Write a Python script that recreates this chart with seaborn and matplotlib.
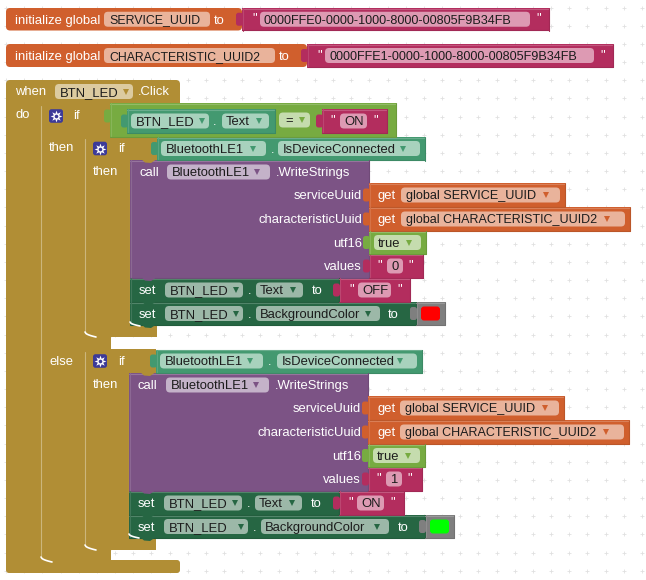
import matplotlib
matplotlib.use('Agg')
from matplotlib import pyplot as plt
from matplotlib.patches import FancyBboxPatch, Rectangle, Polygon
import numpy as np
import seaborn as sns

# all the words on the blocks
init_words = ['initialize global', 'to']
var_names = ['SERVICE_UUID', 'CHARACTERISTIC_UUID2']
uuid_values = ['0000FFE0-0000-1000-8000-00805F9B34FB', '0000FFE1-0000-1000-8000-00805F9B34FB']
button_name = 'BTN_LED'
ble_name = 'BluetoothLE1'
ble_prop = 'IsDeviceConnected'
ble_call = '.WriteStrings'
param_names = ['serviceUuid', 'characteristicUuid', 'utf16', 'values']
get_names = ['global SERVICE_UUID', 'global CHARACTERISTIC_UUID2']
written_values = ['0', '1']
text_values = ['OFF', 'ON']
prop_names = ['Text', 'BackgroundColor']
flow_words = ['when', '.Click', 'do', 'if', 'then', 'else', 'call', 'get', 'set', 'true', '=']

ORANGE, ORANGE_PILL = '#d05f2d', '#e9b39b'
PINK, PINK_PILL = '#b32d5e', '#dd9ab3'
GOLD, GOLD_PILL = '#b18e35', '#dccba0'
PURPLE, PURPLE_PILL = '#7c5385', '#c4b2c9'
TEAL, TEAL_PILL = '#439970', '#a8d2bd'
DGREEN, DGREEN_PILL = '#266643', '#9cb8a8'
LGREEN, LGREEN_PILL = '#77ab41', '#c5dcae'
GREY = '#7f7f7f'
INK = '#1c1c1c'
FS = 9.4

sns.set_theme(style='white')
plt.rcParams['font.family'] = ['Liberation Sans', 'DejaVu Sans']

fig, ax = plt.subplots(figsize=(6.46, 5.8), dpi=100)
ax.set_position([0, 0, 1, 1])

# workspace dot grid
gx, gy = np.meshgrid(np.arange(6, 646, 18.17), np.arange(7.5, 580, 18.17))
sns.scatterplot(x=gx.ravel(), y=gy.ravel(), marker='+', color='#e0e0e0', s=12, linewidth=0.6, ax=ax, zorder=1)


def shade(color, amount):
    c = np.array(matplotlib.colors.to_rgb(color))
    c = c + (1 - c) * amount if amount > 0 else c * (1 + amount)
    return tuple(c)


def rect(x0, y0, x1, y1, color, z=2, edge=True):
    ax.add_patch(Rectangle((x0, y0), x1 - x0, y1 - y0, fc=color, ec='none', zorder=z))
    if edge:
        ax.plot([x0, x1], [y0 + 0.5, y0 + 0.5], color=shade(color, 0.2), lw=0.8, zorder=z + 0.1)
        ax.plot([x0 + 0.5, x0 + 0.5], [y0, y1], color=shade(color, 0.12), lw=0.8, zorder=z + 0.1)
        ax.plot([x0, x1], [y1 - 0.5, y1 - 0.5], color=shade(color, -0.1), lw=0.8, zorder=z + 0.1)
        ax.plot([x1 - 0.5, x1 - 0.5], [y0, y1], color=shade(color, -0.1), lw=0.8, zorder=z + 0.1)


def rounded(x0, y0, x1, y1, color, r=4, z=5):
    ax.add_patch(FancyBboxPatch((x0, y0), x1 - x0, y1 - y0, boxstyle=f'round,pad=0,rounding_size={r}',
                                fc=color, ec='none', zorder=z))


def label(x, yc, s, color='white', ha='left', z=7, fs=FS):
    ax.text(x, yc + 4.3, s, color=color, fontsize=fs, ha=ha, va='baseline', zorder=z)


def pill(x0, x1, yc, s, fill, tri=None, pad=5, fs=FS):
    rounded(x0, yc - 7.5, x1, yc + 7.5, fill)
    label(x0 + pad, yc, s, INK, fs=fs)
    if tri is not None:
        ax.plot([tri[0]], [yc], marker='v', ms=4, color=tri[1], mew=0, zorder=7)


def tab(x, yc, color):
    # puzzle connector of a value block, it bites into its parent
    rounded(x - 6, yc - 6.5, x + 1, yc + 6.5, color, r=2.5, z=4.5)


def notch(x, y, color):
    ax.add_patch(Polygon([(x, y - 1), (x + 4, y + 2.5), (x + 10, y + 3), (x + 16, y - 1)], fc=color, ec='none', zorder=4.6))


def gear(x, yc):
    rounded(x, yc - 6.8, x + 14, yc + 6.8, '#3c3a98', r=2.5)
    ax.plot([x + 7], [yc], marker=(8, 1, 0), ms=8.5, color='white', mew=0, zorder=7)
    ax.plot([x + 7], [yc], marker='o', ms=2.6, color='#3c3a98', mew=0, zorder=8)


def curve(x0, y0, x1, y1):
    # light inside corner under a statement stack
    t = np.linspace(0, 1, 12)
    ax.plot(x0 + (x1 - x0) * t, y0 + (y1 - y0) * np.sqrt(t), color='white', lw=1.2, zorder=4)


def text_block(x0, x1, y0, y1, s, pill_x0, pill_x1, q0, q1, fs=FS):
    rect(x0, y0, x1, y1, PINK, z=3)
    tab(x0, (y0 + y1) / 2, PINK)
    yc = (y0 + y1) / 2
    label(q0, yc - 2, '"')
    pill(pill_x0, pill_x1, yc, s, PINK_PILL, pad=4, fs=fs)
    label(q1, yc - 2, '"')


def init_row(y0, y1, name, name_x1, to_x, split, uuid, pill_x0, pill_x1, end, name_fs):
    yc = (y0 + y1) / 2
    rounded(6, y0, split, y1, ORANGE, r=4, z=2)
    label(15, yc, init_words[0])
    pill(104, name_x1, yc, name, ORANGE_PILL, fs=name_fs)
    label(to_x, yc, init_words[1])
    text_block(split, end, y0, y1, uuid, pill_x0, pill_x1, pill_x0 - 8, pill_x1 + 6, fs=9.1)


def connected_getter(dx, y0, trim):
    # BluetoothLE1.IsDeviceConnected
    yc = y0 + 11.5
    rect(157 + dx, y0, 425 + dx - trim, y0 + 23.5, TEAL, z=3)
    tab(157 + dx, yc, TEAL)
    pill(161 + dx, 266 + dx - trim, yc, ble_name, TEAL_PILL, (253 + dx - trim, TEAL))
    label(271 + dx - trim, yc, '.')
    pill(278 + dx, 420 + dx - trim, yc, ble_prop, TEAL_PILL, (403 + dx - trim, TEAL))


def write_call(dx, y0, value):
    # purple call block with its four sockets
    x = 130 + dx
    rect(x, y0, 369 + dx, y0 + 118, PURPLE, z=3)
    notch(x + 11, y0, GOLD)
    label(139 + dx, y0 + 12, flow_words[6])
    pill(167 + dx, 270 + dx, y0 + 12, ble_name, PURPLE_PILL, (257 + dx, PURPLE))
    label(276 + dx, y0 + 12, ble_call)
    ycs = [y0 + 35, y0 + 59, y0 + 82.5, y0 + 106]
    for yc, name in zip(ycs, param_names):
        label(362 + dx, yc, name, ha='right')
    sx = 369 + dx
    for i, (x1, px1, tx, fs) in enumerate([(565, 560, 546, 9.1), (630, 625, 607, 9.0)]):
        rect(sx, ycs[i] - 12, x1 + dx, ycs[i] + 12, ORANGE, z=4)
        tab(sx, ycs[i], ORANGE)
        label(378 + dx, ycs[i], flow_words[7])
        pill(401 + dx, px1 + dx, ycs[i], get_names[i], ORANGE_PILL, (tx + dx, ORANGE), fs=fs)
    rect(sx, ycs[2] - 11.5, 426 + dx, ycs[2] + 11.5, LGREEN, z=4)
    tab(sx, ycs[2], LGREEN)
    pill(374 + dx, 421 + dx, ycs[2], flow_words[9], LGREEN_PILL, (409 + dx, LGREEN), pad=4)
    text_block(sx, 423 + dx, ycs[3] - 12, ycs[3] + 12, value, 387 + dx, 403 + dx, 377 + dx, 408 + dx)


def set_rows(dx, y0, word, to_x, pink_x1, pill_x0, pill_x1, btn_x1, bg_x0, bg_x1, bg_to, color_x, swatch):
    yc = y0 + 12
    rect(130 + dx, y0, 339, y0 + 24, DGREEN, z=3)
    notch(141 + dx, y0, PURPLE)
    label(139 + dx, yc, flow_words[8])
    pill(165 + dx, 243 + dx, yc, button_name, DGREEN_PILL, (236 + dx, DGREEN))
    label(248 + dx, yc, '.')
    pill(256 + dx, 303 + dx, yc, prop_names[0], DGREEN_PILL, (293 + dx, DGREEN), pad=4)
    label(to_x, yc, init_words[1])
    text_block(339, pink_x1, y0, y0 + 24, word, pill_x0, pill_x1, pill_x0 - 9, pill_x1 + 6)

    yc = y0 + 35.5
    rect(130 + dx, y0 + 24, color_x, y0 + 47, DGREEN, z=3)
    notch(141 + dx, y0 + 24, DGREEN)
    notch(141 + dx, y0 + 47, DGREEN)
    label(139 + dx, yc, flow_words[8])
    pill(165 + dx, btn_x1, yc, button_name, DGREEN_PILL, (btn_x1 - 7, DGREEN))
    label(btn_x1 + 5, yc, '.')
    pill(bg_x0, bg_x1, yc, prop_names[1], DGREEN_PILL, (bg_x1 - 12, DGREEN), pad=4)
    label(bg_to, yc, init_words[1])
    rect(color_x, y0 + 24, color_x + 29, y0 + 47, GREY, z=3)
    tab(color_x, yc, GREY)
    rounded(color_x + 5, yc - 7, color_x + 24, yc + 7, swatch, r=3)


# global variables
init_row(8, 30.5, var_names[0], 210, 214, 242, uuid_values[0], 260, 530, 549, 8.9)
init_row(44, 67, var_names[1], 275, 279, 307, uuid_values[1], 325, 594, 613, 8.8)

# gold event and control blocks, outermost first
rounded(6, 80, 180, 110, GOLD, r=4, z=2)
rect(6, 100, 40, 566, GOLD, edge=False)
rounded(6, 560, 180, 573, GOLD, r=3, z=2)
rect(40, 103, 111, 137, GOLD, edge=False)
rect(40, 137, 84, 552, GOLD, edge=False)
rect(40, 550, 111, 562, GOLD, edge=False)
rect(84, 137, 157, 160, GOLD, edge=False)
rect(84, 160, 130, 326, GOLD, edge=False)
rect(84, 326, 157, 337, GOLD, edge=False)
rect(84, 337, 111, 349, GOLD, edge=False)
rect(84, 349, 156, 373, GOLD, edge=False)
rect(84, 373, 129, 538, GOLD, edge=False)
rect(84, 538, 156, 550, GOLD, edge=False)
for x, y0, y1 in [(40.5, 106, 556), (84.5, 139, 332), (84.5, 352, 544), (129.5, 163, 322), (128.5, 376, 535)]:
    ax.plot([x, x], [y0, y1], color=shade(GOLD, 0.35), lw=0.8, zorder=3)
curve(41, 557, 52, 562)
curve(85, 545, 96, 550)
curve(85, 332, 96, 337)
curve(130, 322, 140, 326)
curve(129, 534, 139, 538)
for x, y in [(97, 337), (53, 562), (97, 550), (53, 137)]:
    notch(x, y, GOLD)

label(15, 91, flow_words[0])
pill(55, 133, 91.5, button_name, GOLD_PILL, (126, GOLD))
label(138, 91, flow_words[1])
label(15, 114, flow_words[2])
gear(49, 116)
label(73, 115, flow_words[3])
label(49, 147, flow_words[4])
gear(93, 148.5)
label(118, 148, flow_words[3])
label(93, 171, flow_words[4])
label(49, 361, flow_words[5])
gear(93, 361)
label(118, 361, flow_words[3])
label(93, 384, flow_words[4])

# if condition of the outer block
rect(110, 103, 396, 137, LGREEN, z=3)
tab(110, 116, LGREEN)
rect(127, 109, 275, 133, TEAL, z=4)
tab(127, 121, TEAL)
pill(131, 209, 121, button_name, TEAL_PILL, (202, TEAL))
label(213, 121, '.')
pill(222, 269, 121, prop_names[0], TEAL_PILL, (259, TEAL), pad=4)
pill(279, 310, 120, flow_words[10], LGREEN_PILL, (302, LGREEN), pad=6)
text_block(322, 387, 109, 133, text_values[1], 340, 367, 330, 373)

# then branch
connected_getter(0, 137, 0)
write_call(0, 160, written_values[0])
set_rows(0, 278, text_values[0], 312, 410, 358, 391, 243, 256, 380, 388, 416, '#ff0000')

# else branch
connected_getter(-1, 349.5, 2)
write_call(-1, 373, written_values[1])
set_rows(-1, 491, text_values[1], 311, 404, 357, 384, 248, 261, 389, 398, 425, '#00ff00')

ax.set_xlim(0, 646)
ax.set_ylim(580, 0)
ax.axis('off')

fig.savefig('out.png', dpi=100, facecolor='white')
